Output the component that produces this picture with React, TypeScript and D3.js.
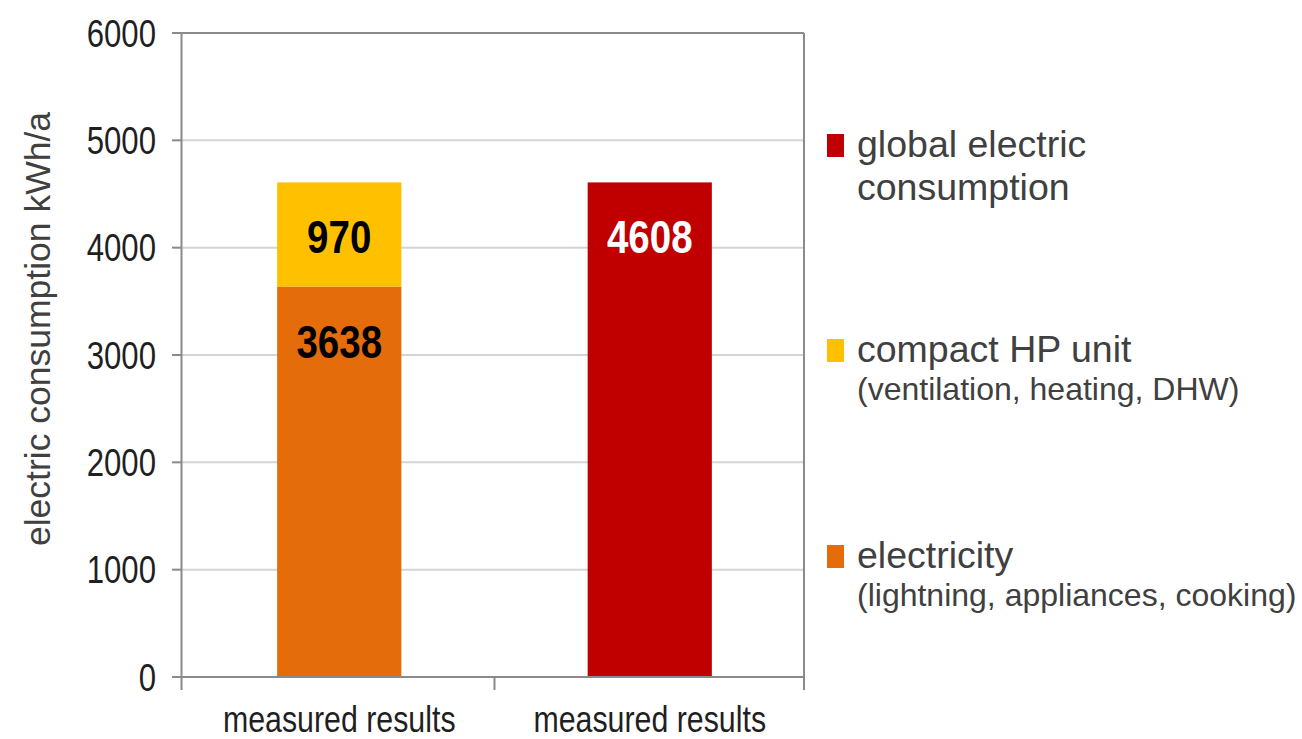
import React from "react";
import * as d3 from "d3";

// Electric consumption of the building, kWh per year
const categories = ["measured results", "measured results"];
const electricityValues = [3638, 0];
const compactHpValues = [970, 0];
const globalValues = [0, 4608];
const yTicks = [0, 1000, 2000, 3000, 4000, 5000, 6000];

const seriesKeys = ["electricity", "compactHP", "global"];
const seriesColors: Record<string, string> = {
  electricity: "#E46C0A",
  compactHP: "#FFC000",
  global: "#C00000",
};
const labelColors: Record<string, string> = {
  electricity: "#000000",
  compactHP: "#000000",
  global: "#FFFFFF",
};

const legendItems = [
  { key: "global", lines: ["global electric", "consumption"], sub: null as string | null },
  { key: "compactHP", lines: ["compact HP unit"], sub: "(ventilation, heating, DHW)" },
  { key: "electricity", lines: ["electricity"], sub: "(lightning, appliances, cooking)" },
];

const W = 1302;
const H = 739;
const plotLeft = 181.5;
const plotRight = 804;
const plotTop = 33;
const plotBottom = 677;

const sans = "'Liberation Sans', Arial, Helvetica, sans-serif";
const NARROW = 0.82; // horizontal squeeze for the condensed face

type NarrowProps = {
  x: number;
  y: number;
  anchor: "start" | "middle" | "end";
  size: number;
  fill: string;
  bold?: boolean;
  dy?: string;
  children: React.ReactNode;
};

function NarrowText({ x, y, anchor, size, fill, bold, dy, children }: NarrowProps) {
  return (
    <g transform={`translate(${x},${y}) scale(${NARROW},1)`}>
      <text
        x={0}
        y={0}
        dy={dy}
        textAnchor={anchor}
        fontFamily={sans}
        fontWeight={bold ? "bold" : "normal"}
        fontSize={size}
        fill={fill}
      >
        {children}
      </text>
    </g>
  );
}

export default function App() {
  const rows = categories.map((c, i) => ({
    idx: i,
    electricity: electricityValues[i],
    compactHP: compactHpValues[i],
    global: globalValues[i],
  }));

  const stacked = d3.stack<any>().keys(seriesKeys)(rows);

  const x = d3
    .scaleBand<number>()
    .domain(categories.map((_, i) => i))
    .range([184, 805])
    .paddingInner(0.6)
    .paddingOuter(0.3);

  const y = d3.scaleLinear().domain([0, 6000]).range([plotBottom, plotTop]);

  const axisColor = "#8a8a8a";
  const gridColor = "#d4d4d4";

  // boundaries between categories for the x-axis tick marks
  const step = x.step();
  const boundaries = categories.slice(1).map((_, i) => x(i + 1)! - (step * x.paddingInner()) / 2);

  return (
    <svg width={W} height={H} style={{ display: "block", position: "absolute", left: 0, top: 0 }}>
      <rect x={0} y={0} width={W} height={H} fill="#ffffff" />

      {/* gridlines */}
      {yTicks.slice(1, -1).map((t) => (
        <line key={"g" + t} x1={plotLeft} x2={plotRight} y1={y(t)} y2={y(t)} stroke={gridColor} strokeWidth={2} />
      ))}

      {/* bars */}
      {stacked.map((layer) =>
        layer.map((d, i) => {
          const v = d[1] - d[0];
          if (v <= 0) return null;
          return (
            <rect
              key={layer.key + i}
              x={x(i)}
              width={x.bandwidth()}
              y={y(d[1])}
              height={y(d[0]) - y(d[1])}
              fill={seriesColors[layer.key]}
            />
          );
        })
      )}

      {/* value labels */}
      {stacked.map((layer) =>
        layer.map((d, i) => {
          const v = d[1] - d[0];
          if (v <= 0) return null;
          return (
            <NarrowText
              key={"l" + layer.key + i}
              x={x(i)! + x.bandwidth() / 2}
              y={y(d[1]) + 71}
              anchor="middle"
              size={47}
              bold
              fill={labelColors[layer.key]}
            >
              {v}
            </NarrowText>
          );
        })
      )}

      {/* plot frame: top and right */}
      <line x1={172} x2={plotRight} y1={plotTop} y2={plotTop} stroke={axisColor} strokeWidth={2} />
      <line x1={plotRight} x2={plotRight} y1={plotTop} y2={690} stroke={axisColor} strokeWidth={2} />

      {/* y axis */}
      <line x1={plotLeft} x2={plotLeft} y1={plotTop} y2={690} stroke={axisColor} strokeWidth={2} />
      {yTicks.map((t) => (
        <g key={"t" + t}>
          <line x1={172} x2={plotLeft} y1={y(t)} y2={y(t)} stroke={axisColor} strokeWidth={2} />
          <NarrowText x={156} y={y(t)} dy="0.36em" anchor="end" size={38} fill="#1f1f1f">
            {t}
          </NarrowText>
        </g>
      ))}

      {/* x axis */}
      <line x1={plotLeft} x2={plotRight} y1={plotBottom} y2={plotBottom} stroke={axisColor} strokeWidth={2} />
      {boundaries.map((b, i) => (
        <line key={"xb" + i} x1={b} x2={b} y1={plotBottom} y2={690} stroke={axisColor} strokeWidth={2} />
      ))}
      {categories.map((c, i) => (
        <NarrowText key={"c" + i} x={x(i)! + x.bandwidth() / 2} y={732} anchor="middle" size={37} fill="#1f1f1f">
          {c}
        </NarrowText>
      ))}

      {/* y axis title */}
      <text
        transform={`translate(50, 329) rotate(-90)`}
        textAnchor="middle"
        fontFamily={sans}
        fontSize={35.5}
        fill="#404040"
      >
        electric consumption kWh/a
      </text>

      {/* legend */}
      {legendItems.map((item, k) => {
        const baselines = [157, 362, 568];
        const by = baselines[k];
        return (
          <g key={"lg" + item.key}>
            <rect x={827} y={by - 23} width={17} height={23} fill={seriesColors[item.key]} />
            {item.lines.map((ln, j) => (
              <text key={j} x={857} y={by + j * 43} fontFamily={sans} fontSize={37.5} fill="#404040">
                {ln}
              </text>
            ))}
            {item.sub && (
              <text x={857} y={by + 38} fontFamily={sans} fontSize={32} fill="#404040">
                {item.sub}
              </text>
            )}
          </g>
        );
      })}
    </svg>
  );
}
